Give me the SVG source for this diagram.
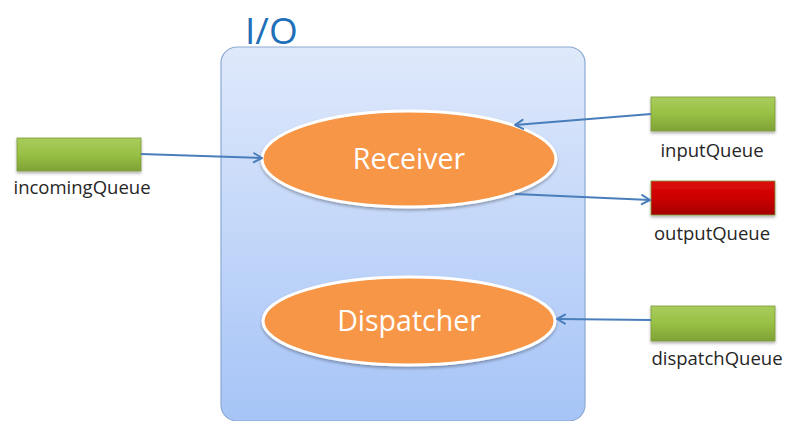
<svg xmlns="http://www.w3.org/2000/svg" width="787" height="421" viewBox="0 0 787 421">
  <defs>
    <linearGradient id="ioFill" x1="0" y1="0" x2="0" y2="1">
      <stop offset="0" stop-color="#dfe9fb"/>
      <stop offset="1" stop-color="#a6c4f7"/>
    </linearGradient>
    <linearGradient id="greenFill" x1="0" y1="0" x2="0" y2="1">
      <stop offset="0" stop-color="#a9cc5c"/>
      <stop offset="0.5" stop-color="#98c044"/>
      <stop offset="1" stop-color="#7fa237"/>
    </linearGradient>
    <linearGradient id="redFill" x1="0" y1="0" x2="0" y2="1">
      <stop offset="0" stop-color="#dc0d0d"/>
      <stop offset="0.5" stop-color="#cc0000"/>
      <stop offset="1" stop-color="#a30000"/>
    </linearGradient>
    <filter id="shadow" x="-10%" y="-20%" width="120%" height="150%">
      <feDropShadow dx="0" dy="2" stdDeviation="1.5" flood-color="#000" flood-opacity="0.3"/>
    </filter>
    <marker id="arrow" viewBox="0 0 12 12" refX="10" refY="6" markerWidth="12" markerHeight="12" markerUnits="userSpaceOnUse" orient="auto">
      <path d="M2,1.5 L10,6 L2,10.5" fill="none" stroke="#4a7ebb" stroke-width="2" stroke-linecap="round" stroke-linejoin="round"/>
    </marker>
  </defs>
  <style>
    .queue { stroke: #7a9a3a; stroke-width: 0.8; filter: url(#shadow); }
    .qlabel { font-family: "Open Sans", "Liberation Sans", sans-serif; font-size: 18.5px; fill: #262626; text-anchor: middle; }
    .proc { fill: #f79646; stroke: #fff; stroke-width: 3; filter: url(#shadow); }
    .plabel { font-family: "Open Sans", "Liberation Sans", sans-serif; font-size: 28.5px; fill: #fff; text-anchor: middle; }
    .conn { stroke: #4a7ebb; stroke-width: 2; fill: none; marker-end: url(#arrow); }
  </style>

  <rect width="787" height="421" fill="#fff"/>

  <g id="io">
    <rect x="221" y="47" width="364" height="374" rx="16" fill="url(#ioFill)" stroke="#8ca9d3" stroke-width="1.2"/>
    <text x="245" y="44" font-family="Open Sans, Liberation Sans, sans-serif" font-size="37" fill="#1f70b8">I/O</text>
  </g>

  <g id="receiver">
    <ellipse class="proc" cx="409" cy="159" rx="147" ry="48"/>
    <text class="plabel" x="409" y="169">Receiver</text>
  </g>

  <g id="dispatcher">
    <ellipse class="proc" cx="409" cy="321" rx="146" ry="44"/>
    <text class="plabel" x="409" y="331">Dispatcher</text>
  </g>

  <g id="incomingQueue">
    <rect class="queue" x="17" y="138" width="124" height="33" fill="url(#greenFill)"/>
    <text class="qlabel" x="82" y="194">incomingQueue</text>
  </g>

  <g id="inputQueue">
    <rect class="queue" x="651" y="97" width="124" height="34" fill="url(#greenFill)"/>
    <text class="qlabel" x="712" y="157">inputQueue</text>
  </g>

  <g id="outputQueue">
    <rect class="queue" x="651" y="181" width="124" height="34" fill="url(#redFill)" stroke="#8a0000"/>
    <text class="qlabel" x="712" y="240">outputQueue</text>
  </g>

  <g id="dispatchQueue">
    <rect class="queue" x="651" y="306" width="124" height="35" fill="url(#greenFill)"/>
    <text class="qlabel" x="717" y="365">dispatchQueue</text>
  </g>

  <g id="connectors">
    <line class="conn" x1="141" y1="154" x2="262" y2="158"/>
    <line class="conn" x1="651" y1="114" x2="515" y2="125"/>
    <line class="conn" x1="515" y1="194" x2="650" y2="200"/>
    <line class="conn" x1="651" y1="320" x2="557" y2="319"/>
  </g>
</svg>
